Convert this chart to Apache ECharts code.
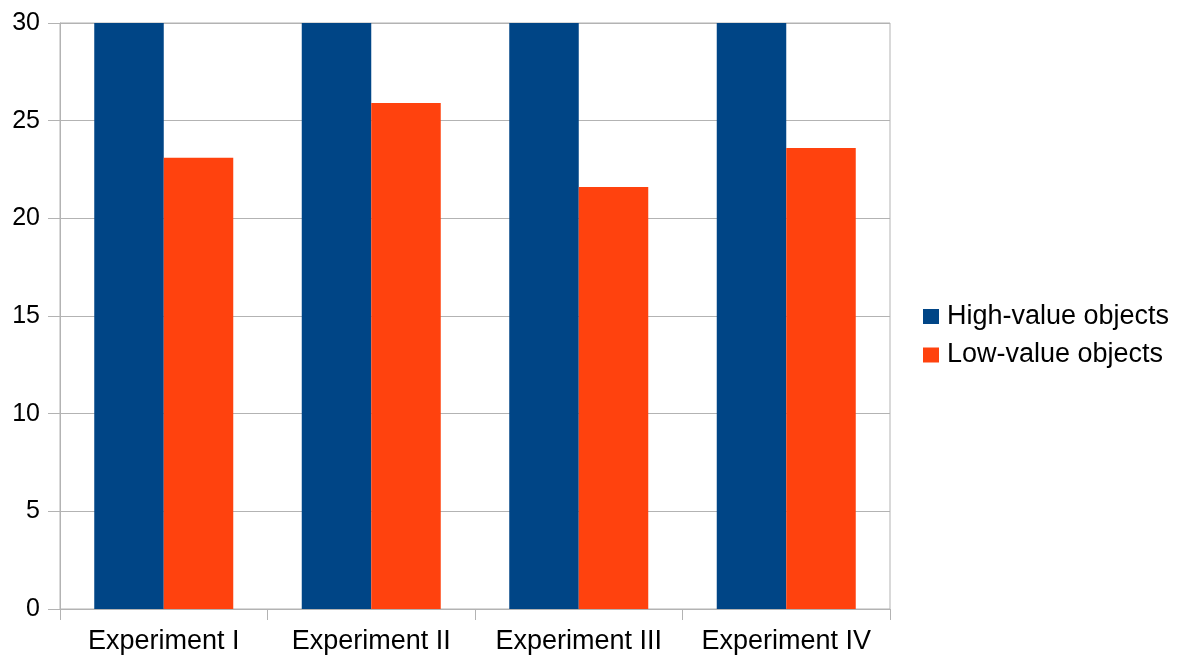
<!DOCTYPE html>
<html>
<head>
<meta charset="utf-8">
<script src="https://cdn.jsdelivr.net/npm/echarts@6/dist/echarts.min.js"></script>
<style>
html,body{margin:0;padding:0;background:#fff;}
#chart{width:1177px;height:657px;}
</style>
</head>
<body>
<div id="chart"></div>
<script>
const categories = ['Experiment I', 'Experiment II', 'Experiment III', 'Experiment IV'];
const highValue = [30, 30, 30, 30];
const lowValue = [23.1, 25.9, 21.6, 23.6];
const seriesNames = ['High-value objects', 'Low-value objects'];

const chart = echarts.init(document.getElementById('chart'));
const font = 'Liberation Sans, Arial, sans-serif';
const gridColor = '#b3b3b3';
chart.setOption({
  animation: false,
  backgroundColor: '#ffffff',
  color: ['#004586', '#ff420e'],
  grid: {
    left: 60, right: 287, top: 23, bottom: 48,
    show: true, borderColor: gridColor, borderWidth: 1
  },
  legend: {
    orient: 'vertical',
    left: 918, top: 298,
    itemWidth: 16, itemHeight: 15, itemGap: 11.5,
    icon: 'rect',
    textStyle: { fontFamily: font, fontSize: 27, lineHeight: 26, color: '#000', padding: [0, 0, 0, 3] },
    data: seriesNames
  },
  xAxis: {
    type: 'category',
    data: categories,
    axisLine: { lineStyle: { color: gridColor } },
    axisTick: { show: true, length: 11, interval: 0, lineStyle: { color: gridColor } },
    axisLabel: { fontFamily: font, fontSize: 27, color: '#000', margin: 19, interval: 0 },
    splitLine: { show: false }
  },
  yAxis: {
    type: 'value',
    min: 0, max: 30, interval: 5,
    axisLine: { show: true, lineStyle: { color: gridColor } },
    axisTick: { show: true, length: 12, lineStyle: { color: gridColor } },
    axisLabel: { fontFamily: font, fontSize: 25, color: '#000', margin: 20 },
    splitLine: { lineStyle: { color: gridColor } }
  },
  series: [
    { name: seriesNames[0], type: 'bar', data: highValue, barWidth: 69.5, barGap: '0%' },
    { name: seriesNames[1], type: 'bar', data: lowValue, barWidth: 69.5, barGap: '0%' }
  ]
});
</script>
</body>
</html>
